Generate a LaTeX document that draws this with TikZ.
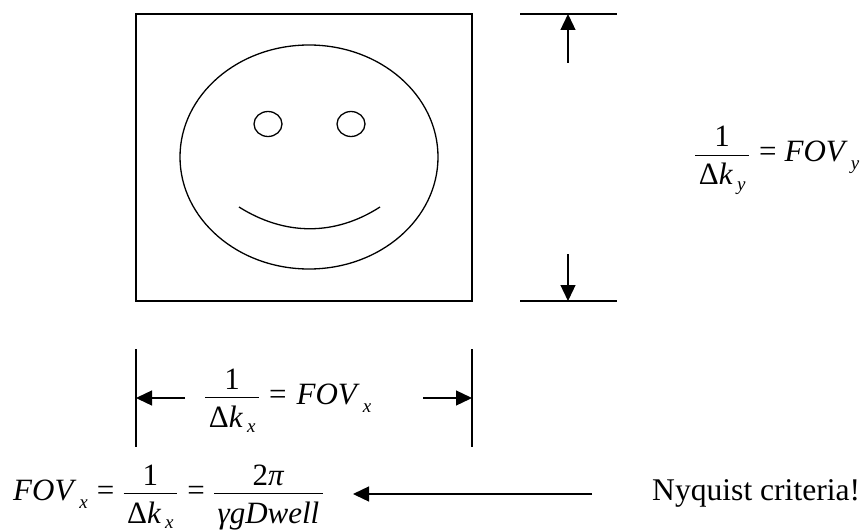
\documentclass[tikz,border=0pt]{standalone}
\usepackage{amsmath}
\usepackage{fontspec}
\setmainfont{Liberation Serif}
\usetikzlibrary{arrows.meta, positioning, shapes.geometric}
\newcommand{\subx}[2]{\kern#1\fontsize{19}{19}\selectfont\itshape #2}
\newcommand{\fovx}[1]{\mbox{\itshape FOV\raisebox{-8pt}{\subx{6pt}{#1}}}}
\newcommand{\fracx}[2]{\genfrac{}{}{1.2pt}{0}{\raisebox{-2pt}{\mbox{#1}}}{\raisebox{-6pt}{\mbox{\kern3.5pt#2\kern3.5pt}}}}
\newcommand{\dk}[1]{\fracx{1}{Δ\textit{k}\raisebox{-5.5pt}{\subx{4pt}{#1}}}}
\newcommand{\eqs}{\mbox{\kern9pt=\kern8pt}}

\begin{document}
\begin{tikzpicture}[
    x=1pt, y=-1pt,
    ln/.style={draw=black, line width=1.3pt},
    ar/.style={-{Triangle[length=16pt, width=15pt]}, draw=black, line width=1.3pt},
    eqn/.style={inner sep=0pt, anchor=base west, font=\fontsize{31}{36}\selectfont},
    note/.style={inner sep=0pt, anchor=base west, font=\fontsize{31.6}{36}\selectfont}
]
\useasboundingbox (0,0) rectangle (864,532);
\node[ln, draw, minimum width=336pt, minimum height=287pt, inner sep=0pt] (fov) at (304,157.5) {};
\node[ln, draw, ellipse, minimum width=258pt, minimum height=224pt, inner sep=0pt] (face) at (309,157) {};
\node[ln, draw, ellipse, minimum width=28pt, minimum height=25pt, inner sep=0pt] (eyel) at (268,124) {};
\node[ln, draw, ellipse, minimum width=28pt, minimum height=25pt, inner sep=0pt] (eyer) at (351,124) {};
\coordinate (ml) at (239,207);
\coordinate (mr) at (380,207);
\draw[ln] (ml) .. controls (285,236) and (335,236) .. (mr);

\coordinate (ta) at (520,14);
\coordinate (tb) at (617,14);
\coordinate (ba) at (520,301);
\coordinate (bb) at (617,301);
\coordinate (utip) at (568,14);
\coordinate (utail) at (568,63);
\coordinate (dtip) at (568,301);
\coordinate (dtail) at (568,254);
\draw[ln] (ta) -- (tb);
\draw[ln] (ba) -- (bb);
\draw[ar] (utail) -- (utip);
\draw[ar] (dtail) -- (dtip);

\coordinate (la) at (136,349);
\coordinate (lb) at (136,447);
\coordinate (ra) at (472,349);
\coordinate (rb) at (472,447);
\coordinate (ltip) at (136,398);
\coordinate (ltail) at (185,398);
\coordinate (rtip) at (472,398);
\coordinate (rtail) at (423,398);
\draw[ln] (la) -- (lb);
\draw[ln] (ra) -- (rb);
\draw[ar] (ltail) -- (ltip);
\draw[ar] (rtail) -- (rtip);

\node[eqn] (fovy) at (694,161.5) {$\dk{y}\eqs\fovx{y}$};
\node[eqn] (fovxa) at (204,404) {$\dk{x}\eqs\kern2pt\fovx{x}$};
\node[eqn] (nyq) at (13,500) {$\fovx{x}\eqs\dk{x}\eqs\fracx{2\textit{π}}{\textit{γgDwell}}$};
\node[note] (crit) at (652,500) {Nyquist criteria!};
\coordinate (ntail) at (592,494);
\coordinate (ntip) at (353,494);
\draw[ar] (ntail) -- (ntip);
\end{tikzpicture}
\end{document}
